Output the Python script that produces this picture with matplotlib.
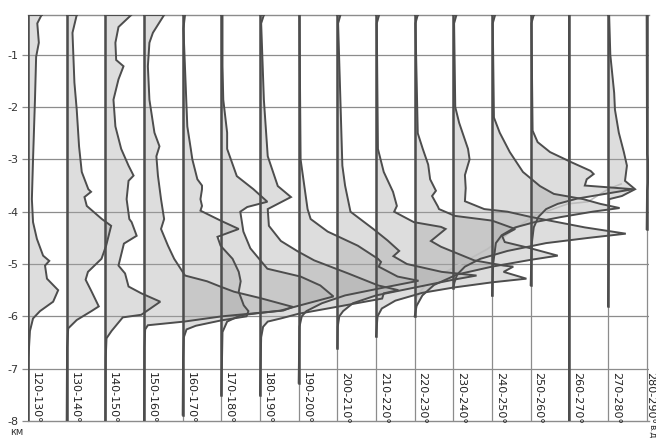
import matplotlib
matplotlib.use("Agg")
import matplotlib.pyplot as plt

# depth (km) / offset (deg-units) pairs for each 10-degree band
bands = ["120-130°", "130-140°", "140-150°", "150-160°", "160-170°", "170-180°",
         "180-190°", "190-200°", "200-210°", "210-220°", "220-230°", "230-240°",
         "240-250°", "250-260°", "260-270°", "270-280°", "280-290°"]
base_lon = [120, 130, 140, 150, 160, 170, 180, 190, 200, 210, 220, 230, 240, 250, 260, 270, 280]

d120 = [-0.24, -0.4, -0.77, -1.04, -1.86, -3.0, -3.76, -4.2, -4.52, -4.84, -4.94, -5.03, -5.28,
        -5.5, -5.72, -5.9, -6.04, -6.28, -6.8, -8.0]
v120 = [3.5, 2.4, 2.8, 2.1, 1.8, 1.3, 1.0, 1.3, 2.3, 3.9, 5.5, 4.4, 4.9, 7.8, 6.5, 3.1, 1.3, 0.5, 0.1, 0.0]

d130 = [-0.24, -0.58, -1.53, -2.05, -2.75, -3.24, -3.57, -3.62, -3.72, -3.89, -4.14, -4.27, -4.65,
        -4.9, -5.15, -5.3, -5.52, -5.81, -5.9, -6.07, -6.23, -6.6, -8.0]
v130 = [2.6, 1.5, 2.0, 2.6, 3.2, 3.9, 5.6, 6.3, 4.6, 5.2, 9.1, 11.5, 10.2, 9.0, 5.5, 4.9, 6.4, 8.3,
        6.4, 2.6, 0.4, 0.1, 0.0]

d140 = [-0.24, -0.47, -0.77, -1.1, -1.22, -1.47, -1.86, -2.37, -2.8, -3.12, -3.31, -3.41, -3.76,
        -4.14, -4.2, -4.46, -4.61, -5.03, -5.18, -5.43, -5.56, -5.72, -5.97, -6.02, -6.28, -6.42,
        -6.8, -8.0]
v140 = [6.7, 3.4, 2.6, 2.8, 4.7, 3.4, 2.1, 2.6, 4.1, 6.0, 7.3, 6.0, 5.5, 6.2, 6.8, 8.1, 4.8, 3.4,
        5.1, 6.0, 9.3, 14.2, 9.3, 4.5, 1.6, 0.3, 0.1, 0.0]

d150 = [-0.24, -0.58, -0.77, -1.22, -1.86, -2.49, -2.75, -2.94, -3.31, -3.76, -4.14, -4.33, -4.65,
        -4.9, -5.15, -5.22, -5.33, -5.43, -5.53, -5.65, -5.82, -5.89, -6.0, -6.1, -6.17, -6.25,
        -6.6, -8.0]
v150 = [5.2, 2.3, 1.4, 1.0, 1.4, 2.7, 4.0, 3.2, 3.6, 4.4, 5.2, 4.4, 6.2, 7.8, 10.0, 10.6, 16.3,
        19.7, 23.3, 30.0, 38.5, 36.0, 20.1, 10.4, 1.0, 0.3, 0.1, 0.0]

d160 = [-0.24, -0.5, -2.37, -2.8, -3.0, -3.38, -3.5, -3.57, -3.76, -3.89, -3.98, -4.17, -4.33,
        -4.48, -4.65, -4.9, -5.15, -5.33, -5.53, -5.79, -5.9, -6.0, -6.08, -6.18, -6.25, -6.4,
        -6.8, -7.88]
v160 = [0.6, 0.2, 1.2, 2.1, 2.5, 3.8, 5.0, 5.0, 4.6, 5.0, 4.6, 9.8, 14.5, 9.0, 9.8, 12.9, 14.5,
        15.0, 14.5, 15.8, 17.0, 16.5, 9.8, 3.4, 1.0, 0.3, 0.1, 0.0]

d170 = [-0.24, -1.22, -1.86, -2.49, -2.8, -3.32, -3.57, -3.81, -3.91, -4.0, -4.38, -4.7, -5.09,
        -5.24, -5.41, -5.62, -5.89, -5.98, -6.1, -6.3, -7.5]
v170 = [0.3, 0.3, 0.5, 1.5, 1.5, 4.0, 8.3, 11.9, 6.7, 4.9, 5.7, 7.5, 11.9, 20.5, 25.6, 29.0, 15.3,
        5.0, 1.5, 0.3, 0.0]

d180 = [-0.24, -0.4, -1.86, -2.94, -3.51, -3.72, -3.95, -4.27, -4.56, -4.76, -4.93, -5.18, -5.41,
        -5.5, -5.56, -5.66, -5.81, -5.95, -6.04, -6.1, -6.2, -6.4, -7.5]
v180 = [1.0, 0.3, 1.0, 2.0, 4.6, 8.0, 2.0, 2.3, 5.4, 9.8, 14.0, 22.8, 30.6, 35.8, 32.0, 31.6, 20.5,
        10.0, 5.4, 2.0, 0.8, 0.3, 0.0]

d190 = [-0.24, -3.0, -3.95, -4.14, -4.38, -4.65, -4.9, -4.96, -5.05, -5.24, -5.32, -5.45, -5.6,
        -5.75, -5.9, -6.0, -6.2, -7.27]
v190 = [0.2, 0.5, 2.3, 3.1, 7.5, 15.3, 20.5, 21.3, 20.7, 25.6, 31.0, 22.0, 12.0, 6.0, 2.0, 0.8,
        0.2, 0.0]

d200 = [-0.24, -0.4, -3.12, -3.5, -4.0, -4.33, -4.55, -4.75, -4.85, -5.0, -5.15, -5.22, -5.3,
        -5.45, -5.6, -5.75, -5.9, -6.0, -6.2, -6.6]
v200 = [0.8, 0.2, 1.3, 2.0, 3.4, 9.3, 13.0, 16.0, 14.5, 18.0, 27.0, 36.0, 30.0, 20.0, 10.0, 4.0,
        1.5, 0.5, 0.1, 0.0]

d210 = [-0.24, -0.4, -2.8, -3.24, -3.62, -3.89, -4.0, -4.2, -4.29, -4.33, -4.56, -4.67, -4.93,
        -5.03, -5.05, -5.15, -5.28, -5.35, -5.45, -5.55, -5.7, -5.85, -6.0, -6.38]
v210 = [0.8, 0.2, 0.5, 2.0, 4.4, 5.4, 4.7, 9.8, 16.8, 18.0, 14.2, 16.8, 25.4, 33.0, 35.5, 33.0,
        38.9, 30.0, 20.0, 12.0, 5.0, 1.5, 0.4, 0.0]

d220 = [-0.24, -0.4, -2.5, -2.8, -3.1, -3.38, -3.6, -3.7, -3.9, -3.95, -4.08, -4.17, -4.33, -4.46,
        -4.58, -4.7, -4.84, -4.92, -5.05, -5.2, -5.4, -5.6, -5.8, -6.0]
v220 = [0.8, 0.2, 0.8, 2.1, 3.5, 4.0, 5.5, 4.5, 6.0, 6.3, 10.4, 20.0, 26.0, 22.6, 23.3, 30.0, 37.0,
        30.0, 20.0, 11.0, 5.0, 2.0, 0.5, 0.0]

d230 = [-0.24, -0.4, -2.0, -2.3, -2.8, -3.0, -3.3, -3.55, -3.8, -3.95, -4.0, -4.1, -4.2, -4.3,
        -4.42, -4.5, -4.6, -4.75, -4.9, -5.05, -5.2, -5.35, -5.45]
v230 = [0.8, 0.2, 0.5, 1.5, 3.8, 4.2, 3.0, 3.2, 3.0, 8.0, 14.0, 20.0, 27.0, 34.0, 44.6, 35.0, 24.0,
        14.0, 7.0, 3.0, 1.0, 0.3, 0.0]

d240 = [-0.24, -0.4, -2.2, -2.49, -2.86, -3.24, -3.51, -3.66, -3.76, -3.85, -3.93, -4.0, -4.1,
        -4.2, -4.3, -4.45, -4.6, -5.0, -5.6]
v240 = [0.8, 0.2, 0.5, 2.0, 4.6, 8.0, 12.4, 16.0, 23.6, 28.0, 33.0, 26.0, 18.0, 11.0, 6.0, 2.5,
        1.0, 0.3, 0.0]

d250 = [-0.24, -0.4, -2.45, -2.67, -2.86, -3.05, -3.22, -3.28, -3.38, -3.5, -3.57, -3.65, -3.75,
        -3.85, -3.95, -4.1, -4.3, -4.6, -5.4]
v250 = [0.8, 0.2, 0.5, 1.8, 5.0, 10.4, 15.5, 16.3, 14.5, 14.0, 26.5, 20.0, 12.0, 7.0, 4.0, 2.0,
        0.8, 0.3, 0.0]

d260 = [-0.24, -8.0]
v260 = [0.0, 0.0]

d270 = [-0.24, -1.0, -1.73, -2.05, -2.49, -2.86, -3.12, -3.41, -3.57, -3.7, -3.76, -5.8]
v270 = [0.3, 0.6, 1.6, 1.8, 2.8, 4.1, 4.9, 4.4, 7.0, 3.6, 0.3, 0.0]

d280 = [-0.24, -2.9, -3.1, -3.35, -3.6, -4.33]
v280 = [0.0, 0.1, 0.5, 0.5, 0.1, 0.0]

# faint trace running through the eastern peaks
trace_lon = [220.3, 223.4, 231.1, 238.9, 244.9, 250.8, 259.6, 264.8, 270.0, 273.4]
trace_depth = [-5.65, -5.33, -5.03, -4.71, -4.38, -4.08, -3.85, -3.81, -3.57, -3.47]

depths = [d120, d130, d140, d150, d160, d170, d180, d190, d200, d210, d220, d230, d240, d250,
          d260, d270, d280]
values = [v120, v130, v140, v150, v160, v170, v180, v190, v200, v210, v220, v230, v240, v250,
          v260, v270, v280]

fig = plt.figure(figsize=(6.56, 4.43), dpi=100)
ax = fig.add_axes([0.0427, 0.0497, 0.946, 0.9165])

ymin, ymax = -8.0, -0.24
grid_c = "#8c8c8c"
line_c = "#4d4d4d"

# grid
for yv in range(-7, 0):
    ax.axhline(yv, color=grid_c, lw=0.9, zorder=1)
for lon in base_lon:
    ax.axvline(lon, color=grid_c, lw=0.9, zorder=1)

# filled profiles
for lon, d, v in zip(base_lon, depths, values):
    x = [lon + o for o in v]
    ax.fill_betweenx(d, lon, x, color="#a8a8a8", alpha=0.38, lw=0, zorder=2)

ax.plot(trace_lon, trace_depth, color="#bdbdbd", lw=1.2, zorder=3)

for lon, d, v in zip(base_lon, depths, values):
    x = [lon + o for o in v]
    ax.plot(x, d, color=line_c, lw=1.4, zorder=4, solid_joinstyle="miter")
    ax.plot([lon, lon], [ymax, d[-1]], color=line_c, lw=1.8, zorder=4)
    ax.plot([lon, x[0]], [ymax, ymax], color=line_c, lw=1.4, zorder=4)

# band labels (the last one sits on its own baseline, at the frame edge)
for lon, lab in zip(base_lon, bands):
    lx = lon + 0.7 if lon < 280 else lon - 0.5
    ax.text(lx, -7.07, lab, rotation=270, ha="left", va="top",
            fontsize=8, color="#222222", zorder=5, clip_on=False)

ax.set_xlim(120, 280.5)
ax.set_ylim(ymin, ymax)
ax.set_xticks([])
ax.set_yticks(range(-8, 0))
ax.set_yticklabels([str(t) for t in range(-8, 0)], fontsize=8, color="#333333")
ax.tick_params(axis="y", length=4, width=0.9, color=grid_c, pad=3)
for side in ["left", "right"]:
    ax.spines[side].set_visible(False)
for side in ["top", "bottom"]:
    ax.spines[side].set_color(grid_c)
    ax.spines[side].set_linewidth(1.0)

fig.text(0.015, 0.018, "км", fontsize=7, color="#333333")
fig.text(0.986, 0.043, "в.д", fontsize=6.5, color="#333333", rotation=270, va="top", ha="left")

fig.savefig("out.png", dpi=100)
